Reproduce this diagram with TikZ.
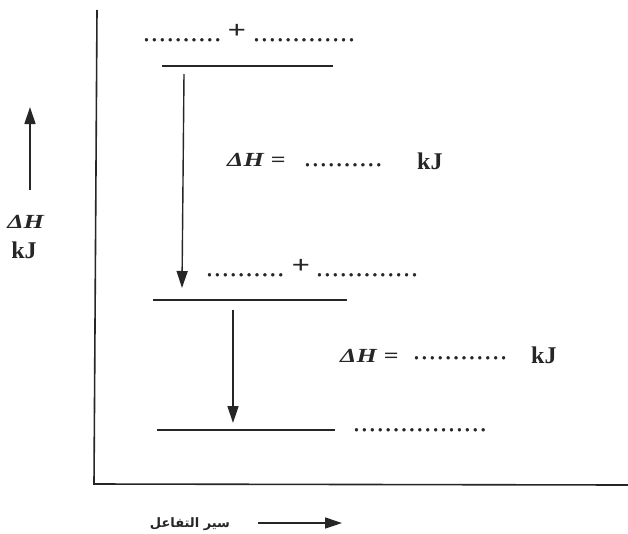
\documentclass[tikz,border=0pt]{standalone}
\usepackage{fontspec}
\setmainfont{Liberation Serif}
\newfontfamily\widefont[FakeStretch=1.3]{Liberation Serif}
\newfontfamily\dotfont[LetterSpace=19,FakeBold=2]{Liberation Serif}
\newfontfamily\arabicfont[Script=Arabic]{DejaVu Sans}
\TeXXeTstate=1
\usetikzlibrary{arrows.meta}
\begin{document}
\begin{tikzpicture}[x=1pt,y=-1pt,black!85,
    level/.style={line width=1.4pt},
    down/.style={line width=1.4pt,-{Triangle[length=17pt,width=11pt]}},
    dots/.style={anchor=base west,inner sep=0pt,font=\fontsize{18pt}{20pt}\dotfont\bfseries},
    plus/.style={inner sep=0pt,font=\fontsize{25pt}{28pt}\widefont\bfseries},
    dh/.style={anchor=base west,inner sep=0pt,font=\fontsize{20pt}{24pt}\widefont\bfseries},
    unit/.style={anchor=base west,inner sep=0pt,font=\fontsize{24pt}{27pt}\selectfont\bfseries}]
\useasboundingbox[fill=white] (0,0) rectangle (628,533);
% axes
\coordinate (top) at (97,10);
\coordinate (corner) at (94,484);
\coordinate (right) at (628,485);
\draw[line width=1.6pt] (top) -- (corner) -- (right);
% energy levels
\draw[level] (162,66) -- (333,66);
\draw[level] (153,300) -- (347,300);
\draw[level] (157,430) -- (335,430);
% species
\node[dots] (r1a) at (144,41) {..........};
\node[plus] (p1) at (237,31) {+};
\node[dots] (r1b) at (254,41) {.............};
\node[dots] (r2a) at (207,276) {..........};
\node[plus] (p2) at (301,266) {+};
\node[dots] (r2b) at (317,276) {.............};
\node[dots] (r3) at (354,431) {.................};
% enthalpy changes
\coordinate (a1s) at (184,74);
\coordinate (a1e) at (182,288);
\draw[down] (a1s) -- (a1e);
\node[dh] (dh1) at (227,166) {\textit{Δ}\textit{H} =};
\node[dots] (v1) at (305,166) {..........};
\node[unit] (u1) at (417,169) {kJ};
\coordinate (a2s) at (233,310);
\coordinate (a2e) at (233,423);
\draw[down] (a2s) -- (a2e);
\node[dh] (dh2) at (340,362) {\textit{Δ}\textit{H} =};
\node[dots] (v2) at (414,359) {............};
\node[unit] (u2) at (531,363) {kJ};
% axis labels
\coordinate (ys) at (30,190);
\coordinate (ye) at (30,107);
\draw[down] (ys) -- (ye);
\node[dh,anchor=base] (yl) at (26,228) {\textit{Δ}\textit{H}};
\node[unit,anchor=base] (yu) at (24,258) {kJ};
\node[font=\fontsize{13pt}{15pt}\arabicfont\bfseries] (xl) at (190,524) {\beginR سير التفاعل\endR};
\coordinate (xs) at (258,523);
\coordinate (xe) at (342,523);
\draw[down] (xs) -- (xe);
\end{tikzpicture}
\end{document}
